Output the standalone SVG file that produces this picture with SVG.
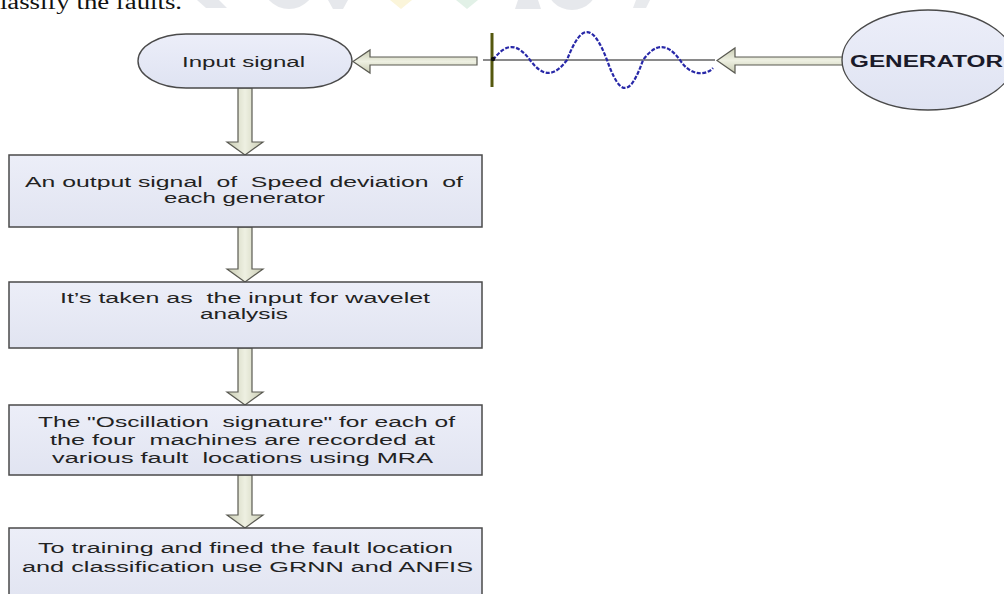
<svg xmlns="http://www.w3.org/2000/svg" width="1004" height="594" viewBox="0 0 1004 594">
  <defs>
    <linearGradient id="boxFill" x1="0" y1="0" x2="0" y2="1">
      <stop offset="0" stop-color="#eceef8"/>
      <stop offset="1" stop-color="#e1e4f1"/>
    </linearGradient>
    <linearGradient id="ellFill" x1="0" y1="0" x2="0" y2="1">
      <stop offset="0" stop-color="#eceef9"/>
      <stop offset="1" stop-color="#dfe3f2"/>
    </linearGradient>
    <linearGradient id="arrowV" x1="0" y1="0" x2="1" y2="0">
      <stop offset="0" stop-color="#c9ccb2"/>
      <stop offset="0.5" stop-color="#eef0e2"/>
      <stop offset="1" stop-color="#c9ccb2"/>
    </linearGradient>
    <linearGradient id="arrowH" x1="0" y1="0" x2="0" y2="1">
      <stop offset="0" stop-color="#c9ccb2"/>
      <stop offset="0.5" stop-color="#eef0e2"/>
      <stop offset="1" stop-color="#c9ccb2"/>
    </linearGradient>
    <style>
      .box { fill: url(#boxFill); stroke: #4a4a4a; stroke-width: 1.5; }
      .ell { fill: url(#ellFill); stroke: #4a4a4a; stroke-width: 1.4; }
      .lbl { font-family: "Liberation Sans", Arial, sans-serif; font-size: 15.5px; fill: #222; }
      .gen { font-family: "Liberation Sans", Arial, sans-serif; font-size: 16px; font-weight: bold; fill: #1a1a2a; }
      .av { fill: url(#arrowV); stroke: #5a5a52; stroke-width: 1.2; stroke-linejoin: miter; }
      .ah { fill: url(#arrowH); stroke: #5a5a52; stroke-width: 1.2; stroke-linejoin: miter; }
      .wm { stroke: none; }
    </style>
  </defs>

  <rect width="1004" height="594" fill="#ffffff"/>

  <!-- faint watermark fragments at top -->
  <g id="watermark" opacity="0.9">
    <polygon class="wm" points="197,0 219,0 227,8 206,8" fill="#e3e6ea"/>
    <ellipse class="wm" cx="289" cy="-18" rx="27" ry="27" fill="#e4e6ea"/>
    <polygon class="wm" points="328,0 348,0 343,9 333,9" fill="#e4e6ea"/>
    <polygon class="wm" points="390,0 412,0 401,9" fill="#fbf4d6"/>
    <polygon class="wm" points="456,0 478,0 467,9" fill="#dff0e5"/>
    <polygon class="wm" points="518,0 538,0 541,9 515,9" fill="#e4e6ea"/>
    <ellipse class="wm" cx="572" cy="-16" rx="26" ry="26" fill="#e4e6ea"/>
    <polygon class="wm" points="636,0 650,0 646,8 633,8" fill="#e6e8ec"/>
  </g>

  <text id="caption" x="-12" y="9" textLength="194" lengthAdjust="spacingAndGlyphs" font-family="'Liberation Serif', 'Times New Roman', serif" font-size="20" fill="#111">classify the faults.</text>

  <!-- connectors -->
  <g id="connectors">
    <path class="ah" d="M843,57 L735,57 L735,48 L717,60.5 L735,73 L735,65 L843,65 Z"/>
    <path class="ah" d="M477,57 L370,57 L370,50 L353,61.5 L370,73 L370,65 L477,65 Z"/>
    <path class="av" d="M238,88 L252,88 L252,142 L263,142 L245,155 L227,142 L238,142 Z"/>
    <path class="av" d="M238,227 L252,227 L252,269 L263,269 L245,282 L227,269 L238,269 Z"/>
    <path class="av" d="M238,348 L252,348 L252,392 L263,392 L245,405 L227,392 L238,392 Z"/>
    <path class="av" d="M238,475 L252,475 L252,515 L263,515 L245,528 L227,515 L238,515 Z"/>
  </g>

  <!-- waveform -->
  <g id="waveform">
    <line x1="483" y1="60" x2="715" y2="60" stroke="#8a8a8a" stroke-width="2"/>
    <line x1="492" y1="33" x2="492" y2="87" stroke="#55580f" stroke-width="3"/>
    <path d="M493,60 C506,42.7 517,42.7 530,60 C543,77.3 554,77.3 567,60 C581.4,22.7 592.6,22.7 607,60 C620,97.3 630,97.3 643,60 C656,42.7 667,42.7 680,60 C690,76 706,76 713,68" fill="none" stroke="#2828a8" stroke-width="2.2" stroke-dasharray="4 1.6"/>
    <circle cx="493" cy="59" r="2.2" fill="#111"/>
  </g>

  <g id="node-input">
    <rect class="ell" x="138" y="34" width="214" height="54" rx="48" ry="27"/>
    <text class="lbl" x="182" y="66.5" textLength="123" lengthAdjust="spacingAndGlyphs">Input signal</text>
  </g>

  <g id="node-generator">
    <ellipse class="ell" cx="928" cy="60" rx="86" ry="50"/>
    <text class="gen" x="850" y="67" textLength="153" lengthAdjust="spacingAndGlyphs">GENERATOR</text>
  </g>

  <g id="node-speed">
    <rect class="box" x="9" y="155" width="473" height="72"/>
    <text class="lbl" xml:space="preserve" x="25" y="187" textLength="438" lengthAdjust="spacingAndGlyphs">An output signal  of  Speed deviation  of</text>
    <text class="lbl" x="164" y="203" textLength="161" lengthAdjust="spacingAndGlyphs">each generator</text>
  </g>

  <g id="node-wavelet">
    <rect class="box" x="9" y="282" width="473" height="66"/>
    <text class="lbl" xml:space="preserve" x="60" y="302.5" textLength="370" lengthAdjust="spacingAndGlyphs">It’s taken as  the input for wavelet</text>
    <text class="lbl" x="200" y="319" textLength="88" lengthAdjust="spacingAndGlyphs">analysis</text>
  </g>

  <g id="node-signature">
    <rect class="box" x="9" y="405" width="473" height="70"/>
    <text class="lbl" xml:space="preserve" x="38" y="426.5" textLength="417" lengthAdjust="spacingAndGlyphs">The "Oscillation  signature" for each of</text>
    <text class="lbl" xml:space="preserve" x="50" y="444.5" textLength="385" lengthAdjust="spacingAndGlyphs">the four  machines are recorded at</text>
    <text class="lbl" xml:space="preserve" x="52" y="463" textLength="381" lengthAdjust="spacingAndGlyphs">various fault  locations using MRA</text>
  </g>

  <g id="node-training">
    <rect class="box" x="9" y="528" width="473" height="75"/>
    <text class="lbl" x="38" y="553" textLength="415" lengthAdjust="spacingAndGlyphs">To training and fined the fault location</text>
    <text class="lbl" x="22" y="571.5" textLength="451" lengthAdjust="spacingAndGlyphs">and classification use GRNN and ANFIS</text>
  </g>
</svg>
